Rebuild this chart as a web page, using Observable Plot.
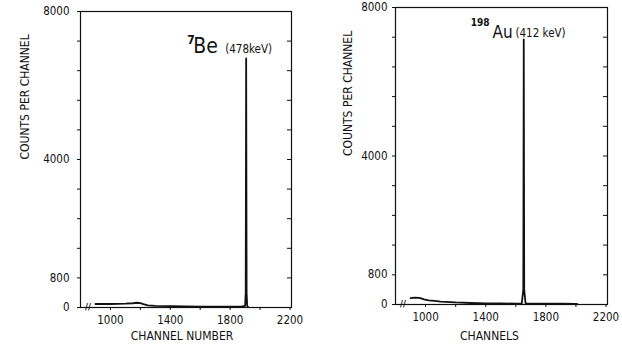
<!DOCTYPE html>
<html>
<head>
<meta charset="utf-8">
<script src="https://cdn.jsdelivr.net/npm/d3@7"></script>
<script src="https://cdn.jsdelivr.net/npm/@observablehq/plot@0.6"></script>
<style>
  html, body { margin: 0; padding: 0; background: #fff; }
  #wrap { display: flex; flex-direction: row; width: 622px; height: 351px; }
  svg { font-family: "DejaVu Sans Condensed", "DejaVu Sans", sans-serif; }
</style>
</head>
<body>
<div id="wrap"></div>
<script>
// ---- Data: 7Be spectrum (left panel)
const beChannels = [900, 950, 1000, 1050, 1100, 1150, 1180, 1200, 1220, 1250, 1300, 1400, 1500, 1600, 1700, 1800, 1880, 1900, 1904, 1907, 1910, 1914, 1920];
const beCounts   = [95,  95,  95,  100,  105,  115,  128,  120,  90,   55,   45,   35,   28,   22,   22,   25,   30,   45,   400,  6730, 400,  40,   10];

// ---- Data: 198Au spectrum (right panel)
const auChannels = [900, 930, 960, 990, 1020, 1060, 1100, 1200, 1300, 1400, 1500, 1600, 1640, 1650, 1653, 1656, 1665, 1700, 1800, 1900, 2000, 2010];
const auCounts   = [170, 185, 180, 140, 110,  95,   80,   55,   40,   32,   28,   25,   28,   400,  7140, 400,  30,   25,   22,   20,   18,   10];

// ---- Axes
const xDomain = [800, 2210];
const yDomain = [0, 8000];
const xTicks = [1000, 1200, 1400, 1600, 1800, 2000, 2200];
const xTickLabels = [1000, 1400, 1800, 2200];
const yTicks = [0, 800, 1600, 2400, 3200, 4000, 4800, 5600, 6400, 7200, 8000];
const yTickLabels = [0, 800, 4000, 8000];

// ---- Annotations
const beLabel = {sup: "7", sym: "Be", energy: "(478keV)", supX: 1513, supY: 7135, symX: 1553, symY: 6865, enX: 1767, enY: 6865};
const auLabel = {sup: "198", sym: "Au", energy: "(412 keV)", supX: 1300, supY: 7515, symX: 1445, symY: 7165, enX: 1598, enY: 7192};
const breakMark = {x: 850, y: 0, text: "//"};

function panel(channels, counts, lab, xTitle, opts) {
  const data = channels.map((c, i) => ({x: c, y: counts[i]}));
  const fmtX = d => xTickLabels.includes(d) ? String(d) : "";
  const fmtY = d => yTickLabels.includes(d) ? String(d) : "";
  return Plot.plot({
    width: 311,
    height: 351,
    marginLeft: opts.ml,
    marginRight: opts.mr,
    marginTop: opts.mt,
    marginBottom: opts.mb,
    style: {fontFamily: '"DejaVu Sans Condensed", "DejaVu Sans", sans-serif', fontSize: "11px", color: "#111", background: "#fff"},
    x: {domain: xDomain},
    y: {domain: yDomain},
    marks: [
      Plot.frame({stroke: "#111", strokeWidth: 1.2}),
      Plot.axisX({ticks: xTicks, tickFormat: fmtX, tickSize: 3, tickPadding: 5, fontSize: 11.5, label: null}),
      Plot.axisY({ticks: yTicks, tickFormat: fmtY, tickSize: 3, tickPadding: opts.ytp, fontSize: 11.5, label: null}),
      Plot.tickY(yTicks, {y: d => d, insetLeft: opts.plotW - 4, stroke: "#111"}),
      Plot.text([xTitle], {frameAnchor: "bottom", dy: opts.xdy, dx: opts.xdx, fontSize: 12, text: d => d, lineAnchor: "top"}),
      Plot.text(["COUNTS PER CHANNEL"], {frameAnchor: "left", dx: -opts.ydx, rotate: -90, fontSize: 12, text: d => d}),
      Plot.text([breakMark], {x: "x", y: "y", text: "text", fontSize: 9, fontWeight: "bold", dy: 0}),
      Plot.line(data, {x: "x", y: "y", stroke: "#111", strokeWidth: 1.8}),
      Plot.text([lab], {x: "supX", y: "supY", text: "sup", textAnchor: "start", lineAnchor: "bottom", fontSize: opts.supSize, fontWeight: 600}),
      Plot.text([lab], {x: "symX", y: "symY", text: "sym", textAnchor: "start", lineAnchor: "bottom", fontSize: opts.symSize}),
      Plot.text([lab], {x: "enX", y: "enY", text: "energy", textAnchor: "start", lineAnchor: "bottom", fontSize: 11.5})
    ]
  });
}

const wrap = document.getElementById("wrap");
wrap.appendChild(panel(beChannels, beCounts, beLabel, "CHANNEL NUMBER",
  {ml: 80, mr: 20, mt: 11, mb: 44, plotW: 211, ytp: 8, xdy: 24, xdx: -4, ydx: 55, supSize: 12, symSize: 21}));
wrap.appendChild(panel(auChannels, auCounts, auLabel, "CHANNELS",
  {ml: 84, mr: 15, mt: 7, mb: 47, plotW: 212, ytp: 5, xdy: 27, xdx: -12, ydx: 47, supSize: 10, symSize: 17}));
</script>
</body>
</html>
